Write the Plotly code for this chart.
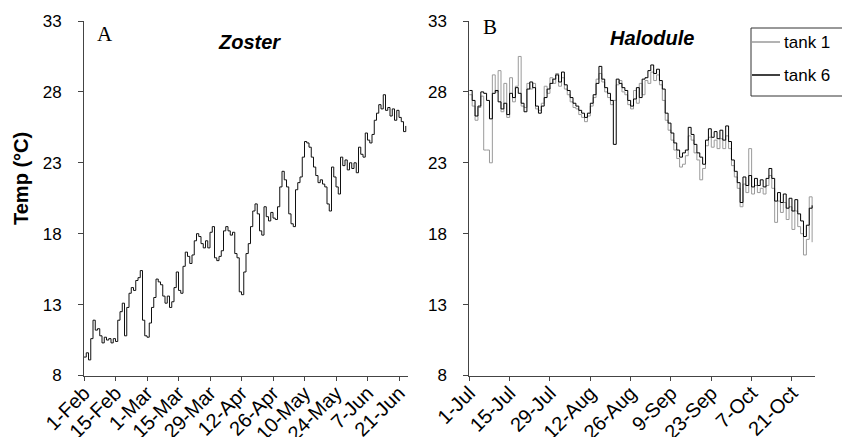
import pandas as pd
import plotly.graph_objects as go

# ---------------- data ----------------
zoster_start = "2001-02-01"
zoster_temp = [
    9.3, 9.6, 9.1, 10.6, 11.9, 11.2, 11.3, 10.8, 10.3, 10.7,
    10.5, 10.6, 10.3, 10.6, 10.4, 11.9, 12.5, 13.1, 10.8, 12.8,
    13.8, 14.2, 14.0, 14.7, 14.9, 15.4, 11.9, 10.8, 10.7, 11.7,
    12.8, 13.5, 14.8, 14.6, 14.4, 13.6, 13.1, 13.6, 12.8, 13.2,
    14.2, 15.3, 14.0, 13.8, 15.7, 16.7, 16.4, 15.9, 16.5, 17.5,
    18.0, 17.8, 17.3, 17.0, 17.5, 17.0, 18.1, 18.5, 16.3, 16.1,
    16.4, 16.8, 18.2, 18.5, 18.2, 17.9, 18.1, 16.6, 16.3, 13.9,
    13.7, 15.3, 16.6, 17.3, 18.5, 19.6, 20.1, 19.4, 18.2, 17.9,
    19.9, 19.2, 18.9, 19.5, 19.1, 19.0, 19.9, 21.3, 22.4, 21.8,
    21.3, 19.4, 18.7, 18.5, 21.1, 21.6, 22.0, 23.4, 24.5, 24.4,
    24.1, 23.4, 22.7, 22.1, 21.6, 21.8, 21.5, 21.3, 20.1, 19.6,
    22.7, 22.0, 21.3, 20.8, 23.4, 22.8, 23.2, 22.5, 23.0, 22.6,
    23.0, 22.3, 24.1, 23.6, 23.4, 25.1, 24.6, 24.4, 25.0, 26.0,
    26.5, 27.1, 26.8, 27.8, 26.7, 26.9, 26.3, 26.8, 26.0, 26.7,
    26.2, 25.9, 25.2, 25.6,
]
zoster_range = ["2001-02-01", "2001-06-25"]
zoster_tickvals = ["2001-02-01", "2001-02-15", "2001-03-01", "2001-03-15",
                   "2001-03-29", "2001-04-12", "2001-04-26", "2001-05-10",
                   "2001-05-24", "2001-06-07", "2001-06-21"]
zoster_ticktext = ["1-Feb", "15-Feb", "1-Mar", "15-Mar", "29-Mar", "12-Apr",
                   "26-Apr", "10-May", "24-May", "7-Jun", "21-Jun"]

halodule_start = "2001-07-01"
tank1_temp = [
    27.8, 27.0, 26.0, 26.9, 27.7, 23.9, 23.9, 23.0, 29.2, 28.0,
    29.5, 26.6, 28.6, 26.2, 29.0, 27.3, 28.4, 30.5, 27.0, 26.9,
    28.6, 28.2, 28.6, 26.8, 26.7, 27.2, 28.4, 27.9, 29.0, 28.6,
    29.3, 28.4, 29.0, 28.2, 27.8, 27.3, 26.9, 26.8, 26.4, 26.2,
    25.9, 26.3, 27.0, 27.6, 28.9, 29.3, 28.7, 28.0, 27.6, 27.1,
    27.4, 28.5, 28.8, 28.0, 27.8, 27.1, 26.8, 28.1, 27.2, 28.6,
    27.8, 28.8, 28.6, 29.4, 28.8, 29.2, 28.5, 27.4, 26.0, 25.3,
    24.6, 23.9, 23.3, 22.7, 22.9, 23.5, 24.9, 24.6, 23.7, 23.2,
    21.8, 22.6, 24.2, 24.8, 24.1, 24.6, 24.0, 24.7, 24.0, 24.9,
    24.0, 22.8, 22.0, 21.2, 19.9, 21.5, 20.9, 24.0, 20.8, 21.4,
    20.9, 21.2, 20.8, 21.4, 22.1, 21.2, 18.8, 20.3, 19.5, 20.2,
    19.0, 19.9, 18.3, 19.6, 18.5, 18.0, 16.5, 17.6, 20.6, 17.4,
]
tank6_temp = [
    28.1, 27.4, 26.3, 27.0, 28.0, 27.9, 27.4, 26.1, 27.9, 28.1,
    27.3, 26.8, 27.2, 26.4, 27.9, 27.6, 28.3, 27.9, 27.2, 26.6,
    28.2, 28.7, 28.3, 27.0, 26.5, 27.0, 27.6, 28.2, 28.6, 28.9,
    29.2, 28.7, 29.4, 28.5, 28.1, 27.6, 27.2, 27.0, 26.7, 26.5,
    26.2, 26.5, 27.2, 27.8, 28.6, 29.8, 28.9, 28.3, 27.9, 27.4,
    24.3, 28.9, 28.6, 28.3, 28.1, 27.4, 27.0, 27.5, 28.3, 27.6,
    28.9, 29.0, 29.5, 29.9, 29.3, 29.6, 28.8, 28.2, 26.5, 25.8,
    25.1, 24.4, 23.9, 23.4, 23.7, 23.9, 25.5, 25.0, 24.3, 23.7,
    23.4, 22.9, 24.6, 25.4, 24.8, 25.2, 24.7, 25.3, 24.6, 25.6,
    24.5, 23.2, 22.4, 21.6, 20.2, 22.0, 21.4, 22.1, 21.3, 21.9,
    21.4, 21.8, 21.3, 21.9, 22.6, 21.9, 20.3, 20.9, 20.2, 20.8,
    19.8, 20.5, 19.6, 20.4, 19.4, 18.9, 17.8, 18.6, 19.8, 20.0,
]
halodule_range = ["2001-07-01", "2001-10-29"]
halodule_tickvals = ["2001-07-01", "2001-07-15", "2001-07-29", "2001-08-12",
                     "2001-08-26", "2001-09-09", "2001-09-23", "2001-10-07",
                     "2001-10-21"]
halodule_ticktext = ["1-Jul", "15-Jul", "29-Jul", "12-Aug", "26-Aug", "9-Sep",
                     "23-Sep", "7-Oct", "21-Oct"]

y_ticks = [8, 13, 18, 23, 28, 33]
series_names = ["tank 1", "tank 6"]
series_colors = ["#9a9a9a", "#000000"]

# ---------------- figure ----------------
W, H = 842, 437
FONT = "Liberation Sans, Arial, Helvetica, sans-serif"
SERIF = "Liberation Serif, Times New Roman, serif"


def px_x(p):
    return p / W


def px_y(p):
    return 1 - p / H


zoster_dates = pd.date_range(zoster_start, periods=len(zoster_temp), freq="D")
halodule_dates = pd.date_range(halodule_start, periods=len(tank6_temp), freq="D")

fig = go.Figure()
fig.add_trace(go.Scatter(x=zoster_dates, y=zoster_temp, mode="lines",
                         name="Zoster",
                         line=dict(color="#111111", width=1, shape="hv"),
                         showlegend=False, xaxis="x", yaxis="y"))
for name, vals, col in zip(series_names, [tank1_temp, tank6_temp], series_colors):
    fig.add_trace(go.Scatter(x=halodule_dates, y=vals, mode="lines",
                             name=name, showlegend=False,
                             line=dict(color=col, width=1, shape="hv"),
                             xaxis="x2", yaxis="y2"))

ydom = [px_y(375.5), px_y(21)]
common_x = dict(type="date", showgrid=False, zeroline=False, showline=True,
                linecolor="#444444", linewidth=1, ticks="outside", ticklen=4,
                tickcolor="#444444", tickangle=-45, ticklabelstandoff=-7,
                tickfont=dict(family=FONT, size=20, color="#000000"))
common_y = dict(range=[8, 33], tickvals=y_ticks, showgrid=False, zeroline=False,
                showline=True, linecolor="#444444", linewidth=1,
                ticks="outside", ticklen=5, tickcolor="#444444",
                ticklabelstandoff=13,
                tickfont=dict(family=FONT, size=17, color="#000000"))

# manual legend box (as in the reference, box runs off the right edge)
leg_x0, leg_y0, leg_y1 = 751, 28, 96
leg_rows = [42, 75]
shapes = [dict(type="rect", xref="paper", yref="paper",
               x0=px_x(leg_x0), x1=px_x(860), y0=px_y(leg_y1), y1=px_y(leg_y0),
               line=dict(color="#333333", width=1), fillcolor="rgba(0,0,0,0)")]
annotations = []
for name, col, row in zip(series_names, series_colors, leg_rows):
    shapes.append(dict(type="line", xref="paper", yref="paper",
                       x0=px_x(752), x1=px_x(780), y0=px_y(row), y1=px_y(row),
                       line=dict(color=col, width=1.5)))
    annotations.append(dict(text=name, x=px_x(782), y=px_y(row), xref="paper",
                            yref="paper", xanchor="left", yanchor="middle",
                            showarrow=False,
                            font=dict(family=FONT, size=17, color="#000000")))

annotations += [
    dict(text="Temp (°C)", x=px_x(21), y=px_y(179), xref="paper",
         yref="paper", textangle=-90, showarrow=False,
         xanchor="center", yanchor="middle",
         font=dict(family=FONT, size=20, color="#000000", weight="bold")),
    dict(text="<b><i>Zoster</i></b>", x=px_x(249), y=px_y(42),
         xref="paper", yref="paper", showarrow=False,
         xanchor="center", yanchor="middle",
         font=dict(family=FONT, size=20, color="#000000")),
    dict(text="<b><i>Halodule</i></b>", x=px_x(652), y=px_y(38),
         xref="paper", yref="paper", showarrow=False,
         xanchor="center", yanchor="middle",
         font=dict(family=FONT, size=20, color="#000000")),
    dict(text="A", x=px_x(105), y=px_y(34), xref="paper", yref="paper",
         showarrow=False, xanchor="center", yanchor="middle",
         font=dict(family=SERIF, size=21, color="#000000")),
    dict(text="B", x=px_x(490), y=px_y(27), xref="paper", yref="paper",
         showarrow=False, xanchor="center", yanchor="middle",
         font=dict(family=SERIF, size=21, color="#000000")),
]

fig.update_layout(
    width=W, height=H,
    margin=dict(l=0, r=0, t=0, b=0, autoexpand=False),
    paper_bgcolor="white", plot_bgcolor="white",
    showlegend=False,
    xaxis=dict(domain=[px_x(84), px_x(408)], range=zoster_range,
               tickvals=zoster_tickvals, ticktext=zoster_ticktext,
               anchor="y", **common_x),
    yaxis=dict(domain=ydom, anchor="x", **common_y),
    xaxis2=dict(domain=[px_x(469.3), px_x(815)], range=halodule_range,
                tickvals=halodule_tickvals, ticktext=halodule_ticktext,
                anchor="y2", **common_x),
    yaxis2=dict(domain=ydom, anchor="x2", **common_y),
    shapes=shapes,
    annotations=annotations,
)

fig.write_html("out.html")
